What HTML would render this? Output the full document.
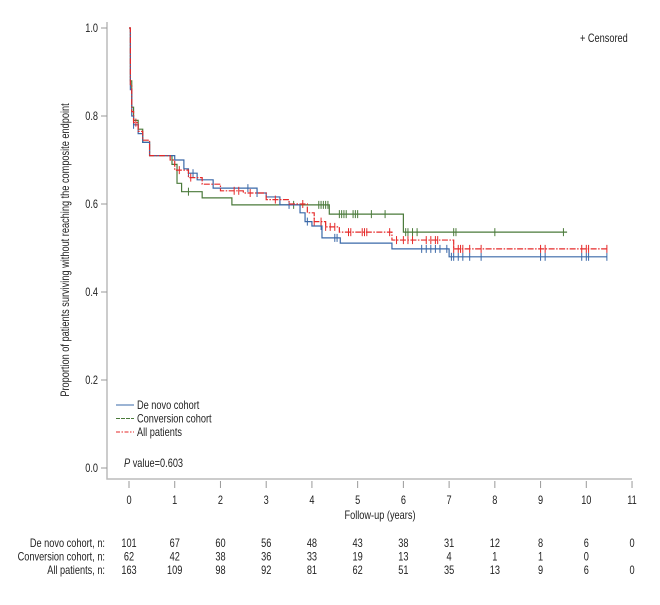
<!DOCTYPE html>
<html><head><meta charset="utf-8"><style>
body{margin:0;background:#fff}
svg{font-family:"Liberation Sans Narrow","Liberation Sans",sans-serif;font-size:11.5px;fill:#222}
</style></head><body>
<svg id="c" width="660" height="600"></svg>
<script>
const xTicks=[0,1,2,3,4,5,6,7,8,9,10,11];
const yTicks=[0,0.2,0.4,0.6,0.8,1.0];
const deNovoT=[0,0.03,0.06,0.1,0.2,0.3,0.45,1.0,1.2,1.3,1.49,1.84,2.8,3.0,3.3,3.74,3.85,4.0,4.22,4.62,5.75,7.0,10.45];
const deNovoS=[1.0,0.86,0.80,0.78,0.76,0.74,0.71,0.70,0.68,0.67,0.655,0.636,0.625,0.616,0.598,0.58,0.56,0.55,0.523,0.511,0.498,0.48,0.48];
const convT=[0,0.03,0.06,0.1,0.2,0.3,0.45,0.94,1.05,1.15,1.6,2.25,4.38,6.0,9.58];
const convS=[1.0,0.88,0.82,0.79,0.77,0.74,0.71,0.69,0.647,0.628,0.614,0.598,0.577,0.536,0.536];
const allT=[0,0.03,0.06,0.1,0.2,0.3,0.45,0.9,1.0,1.3,1.6,2.0,2.5,3.0,3.5,3.9,4.05,4.3,4.6,5.75,7.1,10.45];
const allS=[1.0,0.87,0.81,0.785,0.765,0.745,0.71,0.70,0.677,0.66,0.645,0.63,0.625,0.61,0.60,0.58,0.56,0.548,0.536,0.518,0.498,0.498];
const deNovoCens=[0.1,1.3,1.4,2.6,2.8,3.5,3.9,4.2,4.5,4.55,6.4,6.5,6.6,6.7,6.8,6.95,7.05,7.1,7.2,7.3,7.45,7.7,9.0,9.1,9.9,10.0,10.05,10.45];
const convCens=[1.3,3.6,4.15,4.2,4.25,4.3,4.35,4.6,4.65,4.7,4.75,4.9,4.95,5.0,5.3,5.6,6.05,6.1,6.2,6.3,7.1,7.15,8.0,9.5];
const allCens=[0.15,1.1,1.35,2.3,2.4,2.65,3.2,3.8,4.05,4.2,4.3,4.4,4.5,4.8,4.85,5.1,5.15,5.2,5.7,5.85,6.0,6.1,6.2,6.5,6.6,6.7,6.75,7.1,7.2,7.25,7.3,7.45,7.7,9.0,9.1,9.9,10.0,10.05,10.45];
const rowLabels=["De novo cohort, n:","Conversion cohort, n:","All patients, n:"];
const riskDeNovo=[101,67,60,56,48,43,38,31,12,8,6,0];
const riskConv=[62,42,38,36,33,19,13,4,1,1,0,null];
const riskAll=[163,109,98,92,81,62,51,35,13,9,6,0];

const NS="http://www.w3.org/2000/svg",svg=document.getElementById('c');
const X=t=>129+t*45.73, Y=v=>468-v*440;
const SX=0.8;
function mk(tag,a,txt){const e=document.createElementNS(NS,tag);for(const k in a)e.setAttribute(k,a[k]);if(txt!=null)e.textContent=txt;svg.appendChild(e);return e;}
function tx(x,y,s,anchor,rot){
 const tr=rot?`translate(${x},${y}) rotate(-90) scale(${SX},1)`:`translate(${x},${y}) scale(${SX},1)`;
 return mk('text',{x:0,y:0,'text-anchor':anchor||'start',transform:tr},s);
}
let e;
e=mk('path',{d:'M107,22V479H632',fill:'none',stroke:'#bbb','stroke-width':1.5});


yTicks.forEach(v=>{
 e=mk('line',{x1:101,x2:107,y1:Y(v),y2:Y(v),stroke:'#999'});
 
 
 e=tx(98,Y(v)+4,v.toFixed(1),'end');
 
 
});
xTicks.forEach(t=>{
 e=mk('line',{x1:X(t),x2:X(t),y1:481,y2:488,stroke:'#999'});
 
 
 e=tx(X(t),504,String(t),'middle');
 
 
});
e=tx(380,519,'Follow-up (years)','middle');


e=tx(69,250,'Proportion of patients surviving without reaching the composite endpoint','middle',true);


function stepVal(T,S,t){let v=S[0];for(let i=0;i<T.length;i++)if(T[i]<=t)v=S[i];return v;}
function series(T,S,C,col,dash,name){
 let d='M'+X(T[0])+','+Y(S[0]);
 for(let i=1;i<T.length;i++){d+='H'+X(T[i])+'V'+Y(S[i]);}
 e=mk('path',{d:d,fill:'none',stroke:col,'stroke-width':1.2,'stroke-dasharray':dash});
 
 
 C.forEach(t=>{const y=Y(stepVal(T,S,t));
  e=mk('path',{d:`M${X(t)},${y-4}V${y+4}`,stroke:col,'stroke-width':1});
  
  
 });
}
series(convT,convS,convCens,'#4a7a3a','none','conversion');
series(deNovoT,deNovoS,deNovoCens,'#3a68a8','none','de-novo');
series(allT,allS,allCens,'#e52a2a','6,1.5,1.5,1.5','all-patients');
const leg=[['De novo cohort','#3a68a8','none'],['Conversion cohort','#4a7a3a','4,1'],['All patients','#e52a2a','4,1.5,1.5,1.5']];
leg.forEach((l,i)=>{const y=405+i*13.5;
 e=mk('line',{x1:116,x2:134,y1:y,y2:y,stroke:l[1],'stroke-dasharray':l[2]});
 
 
 e=tx(137,y+4,l[0]);
 
 
});
e=tx(124,467,'');
e.innerHTML='<tspan font-style="italic">P</tspan> value=0.603';


e=tx(580,42,'+ Censored');


[riskDeNovo,riskConv,riskAll].forEach((r,i)=>{const y=547+i*13.5;
 e=tx(105,y,rowLabels[i],'end');
 
 
 r.forEach((n,j)=>{if(n==null)return;
  e=tx(X(xTicks[j]),y,String(n),'middle');
  
  
 });
});
</script>
</body></html>
